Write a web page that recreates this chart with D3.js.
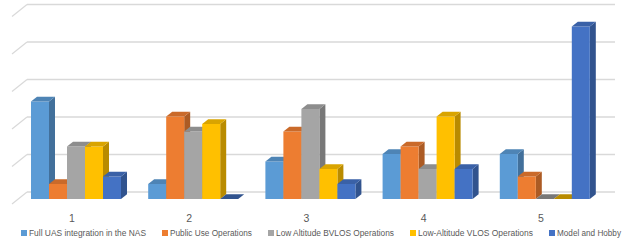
<!DOCTYPE html>
<html>
  <head>
    <meta charset="utf-8">
    <script src="https://d3js.org/d3.v7.min.js"></script>
    <style>
      body { margin: 0; background: #fff; }
      svg text { font-family: "Liberation Sans", Arial, sans-serif; fill: #595959; }
    </style>
  </head>
  <body>
    <svg id="chart" width="625" height="241"></svg>
    <script>
      var categories = ["1", "2", "3", "4", "5"];
      var seriesNames = ["Full UAS integration in the NAS", "Public Use Operations",
        "Low Altitude BVLOS Operations", "Low-Altitude VLOS Operations", "Model and Hobby"];
      var fullUas = [13, 2, 5, 6, 6];
      var publicUse = [2, 11, 9, 7, 3];
      var bvlos = [7, 9, 12, 4, 0];
      var vlos = [7, 10, 4, 11, 0];
      var hobby = [3, 0, 2, 4, 23];
      var colors = ["#5b9bd5", "#ed7d31", "#a5a5a5", "#ffc000", "#4472c4"];

      var series = [fullUas, publicUse, bvlos, vlos, hobby];

      var svg = d3.select("#chart");

      // 3d offsets
      var wallDx = 15, wallDy = 12;   // depth of side wall
      var barDx = 6, barDy = 4.8;     // depth of each bar
      var wallShiftY = 7;             // bar front -> back wall
      var wallLeft = 27, wallRight = 615;

      var x = d3.scaleBand()
          .domain(categories)
          .range([17.4, 603.4])
          .paddingInner(0.232)
          .paddingOuter(0.116);

      var xs = d3.scaleBand()
          .domain(d3.range(series.length))
          .range([0, x.bandwidth()]);

      var y = d3.scaleLinear()
          .domain([0, 25])
          .range([199, 11.5]);

      // gridlines on back wall + side wall
      var grid = svg.append("g");
      y.ticks(5).forEach(function(t) {
        var yw = y(t) - wallShiftY;
        grid.append("line")
          .attr("x1", wallLeft).attr("x2", wallRight)
          .attr("y1", yw).attr("y2", yw)
          .attr("stroke", "#d9d9d9").attr("stroke-width", 1.3);
        grid.append("line")
          .attr("x1", wallLeft - wallDx).attr("x2", wallLeft)
          .attr("y1", yw + wallDy).attr("y2", yw)
          .attr("stroke", "#d9d9d9").attr("stroke-width", 1.3);
      });

      // bars, drawn left to right so each front face covers the previous side face
      var bars = svg.append("g");
      categories.forEach(function(c, ci) {
        series.forEach(function(s, si) {
          var v = s[ci];
          var x0 = x(c) + xs(si), x1 = x0 + xs.bandwidth();
          var y0 = y(0), y1 = y(v);
          var base = d3.color(colors[si]);
          var g = bars.append("g");
          if (v > 0) {
            g.append("polygon")
              .attr("points", [[x1, y0], [x1, y1], [x1 + barDx, y1 - barDy], [x1 + barDx, y0 - barDy]].join(" "))
              .attr("fill", base.darker(0.9));
            g.append("rect")
              .attr("x", x0).attr("y", y1)
              .attr("width", x1 - x0).attr("height", y0 - y1)
              .attr("fill", colors[si]);
          }
          g.append("polygon")
            .attr("points", [[x0, y1], [x1, y1], [x1 + barDx, y1 - barDy], [x0 + barDx, y1 - barDy]].join(" "))
            .attr("fill", base.darker(v > 0 ? 0.45 : 0.9));
        });
      });

      // category labels
      svg.append("g").selectAll("text")
        .data(categories)
        .join("text")
          .attr("x", function(d) { return x(d) + x.bandwidth() / 2 - 4; })
          .attr("y", 222)
          .attr("text-anchor", "middle")
          .style("font-size", "10.5px")
          .text(function(d) { return d; });

      // legend
      var legendWidths = [117, 82, 118, 115, 64];
      var lx = 21;
      var legend = svg.append("g");
      seriesNames.forEach(function(name, i) {
        legend.append("rect")
          .attr("x", lx).attr("y", 230)
          .attr("width", 6).attr("height", 6)
          .attr("fill", colors[i]);
        legend.append("text")
          .attr("x", lx + 8).attr("y", 236)
          .attr("textLength", legendWidths[i])
          .attr("lengthAdjust", "spacingAndGlyphs")
          .style("font-size", "8.5px")
          .text(name);
        lx += 8 + legendWidths[i] + 16;
      });
    </script>
  </body>
</html>
